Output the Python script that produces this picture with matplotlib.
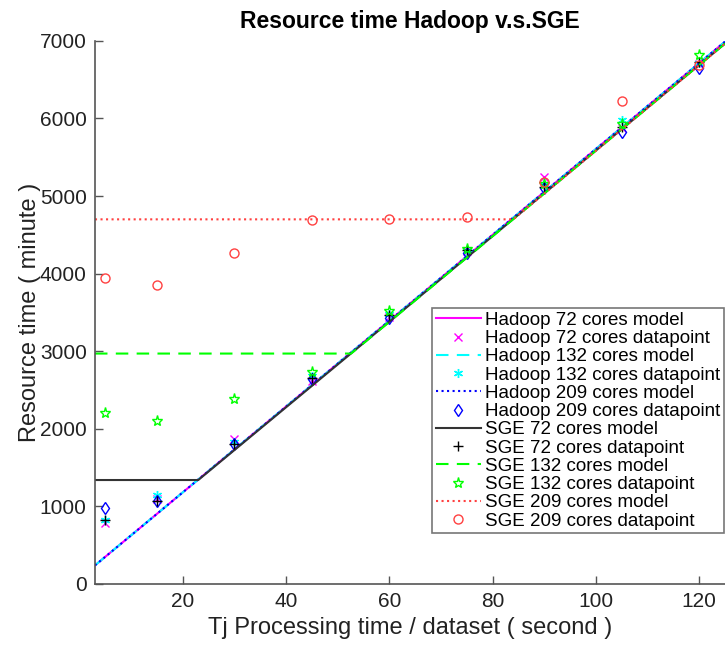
"""Resource time Hadoop v.s. SGE - model lines vs measured datapoints"""
import numpy as np
import matplotlib
matplotlib.use('Agg')
import matplotlib.pyplot as plt

plt.rcParams['font.family'] = ['Liberation Sans', 'DejaVu Sans']

# Tj processing time per dataset (second)
tj = [5, 15, 30, 45, 60, 75, 90, 105, 120]

# measured resource time (minute)
hadoop72_pts = [790, 1090, 1865, 2617, 3440, 4295, 5243, 5880, 6700]
hadoop132_pts = [830, 1147, 1830, 2680, 3480, 4290, 5140, 5982, 6720]
hadoop209_pts = [976, 1070, 1805, 2640, 3425, 4271, 5100, 5831, 6648]
sge72_pts = [825, 1070, 1810, 2652, 3468, 4300, 5122, 5895, 6733]
sge132_pts = [2208, 2101, 2381, 2737, 3523, 4315, 5160, 5930, 6820]
sge209_pts = [3945, 3855, 4271, 4693, 4705, 4735, 5178, 6227, 6690]

# model lines (knots)
hadoop_model_x = [3, 125]
hadoop_model_y = [240, 6990]
sge72_model_x = [3, 23.0, 125]
sge72_model_y = [1340, 1340, 6965]
sge132_model_x = [3, 52.6, 125]
sge132_model_y = [2970, 2970, 6965]
sge209_model_x = [3, 84.0, 125]
sge209_model_y = [4700, 4700, 6965]

fig = plt.figure(figsize=(7.25, 6.45), dpi=100)
ax = fig.add_axes([0.131, 0.0946, 0.869, 0.842])

lw = 1.5
mew = 1.0
ax.plot(hadoop_model_x, hadoop_model_y, '-', color='#ff00ff', lw=lw, label='Hadoop 72 cores model')
ax.plot(tj, hadoop72_pts, 'x', color='#ff00ff', ms=5.5, mew=mew, label='Hadoop 72 cores datapoint')
ax.plot(hadoop_model_x, hadoop_model_y, '--', color='#00ffff', lw=lw, dashes=(6, 4), label='Hadoop 132 cores model')
ax.plot(tj, hadoop132_pts, ls='none', marker=(6, 2, 0), color='#00ffff', ms=6.5, mew=mew,
        label='Hadoop 132 cores datapoint')
ax.plot(hadoop_model_x, hadoop_model_y, ':', color='#0000ff', lw=lw, label='Hadoop 209 cores model')
ax.plot(tj, hadoop209_pts, 'd', color='#0000ff', mfc='none', ms=6.5, mew=mew, label='Hadoop 209 cores datapoint')
ax.plot(sge72_model_x, sge72_model_y, '-', color='#333333', lw=lw, label='SGE 72 cores model')
ax.plot(tj, sge72_pts, '+', color='black', ms=7, mew=mew, label='SGE 72 cores datapoint')
ax.plot(sge132_model_x, sge132_model_y, '--', color='#00ff00', lw=lw, dashes=(6, 4), label='SGE 132 cores model')
ax.plot(tj, sge132_pts, '*', color='#00ff00', mfc='none', ms=8, mew=mew, label='SGE 132 cores datapoint')
ax.plot(sge209_model_x, sge209_model_y, ':', color='#ff4040', lw=lw, label='SGE 209 cores model')
ax.plot(tj, sge209_pts, 'o', color='#ff4040', mfc='none', ms=6.5, mew=mew, label='SGE 209 cores datapoint')

ax.set_xlim(3, 125)
ax.set_ylim(0, 7000)
ax.set_xticks([20, 40, 60, 80, 100, 120])
ax.set_yticks(range(0, 7001, 1000))
ax.spines['top'].set_visible(False)
ax.spines['right'].set_visible(False)
for s in ('left', 'bottom'):
    ax.spines[s].set_color('#555555')
    ax.spines[s].set_linewidth(1.2)
ax.tick_params(direction='in', length=6, width=1.0, colors='#555555', labelcolor='#222222',
               labelsize=15, pad=6)

ax.set_xlabel('Tj Processing time / dataset ( second )', fontsize=17, color='#222222', labelpad=4)
ax.set_ylabel('Resource time ( minute )', fontsize=17, color='#222222', labelpad=-1)
ax.set_title('Resource time Hadoop v.s.SGE', fontsize=16.5, fontweight='bold', pad=9)

leg = ax.legend(loc='upper left', bbox_to_anchor=(0.596, 0.5225), bbox_transform=fig.transFigure,
                borderaxespad=0, fontsize=13.5, frameon=True, fancybox=False, handlelength=2.4,
                handletextpad=0.2, labelspacing=0.06, borderpad=0.2, numpoints=1)
leg.get_frame().set_edgecolor('#555555')
leg.get_frame().set_linewidth(1.2)

fig.savefig('out.png', dpi=100)
